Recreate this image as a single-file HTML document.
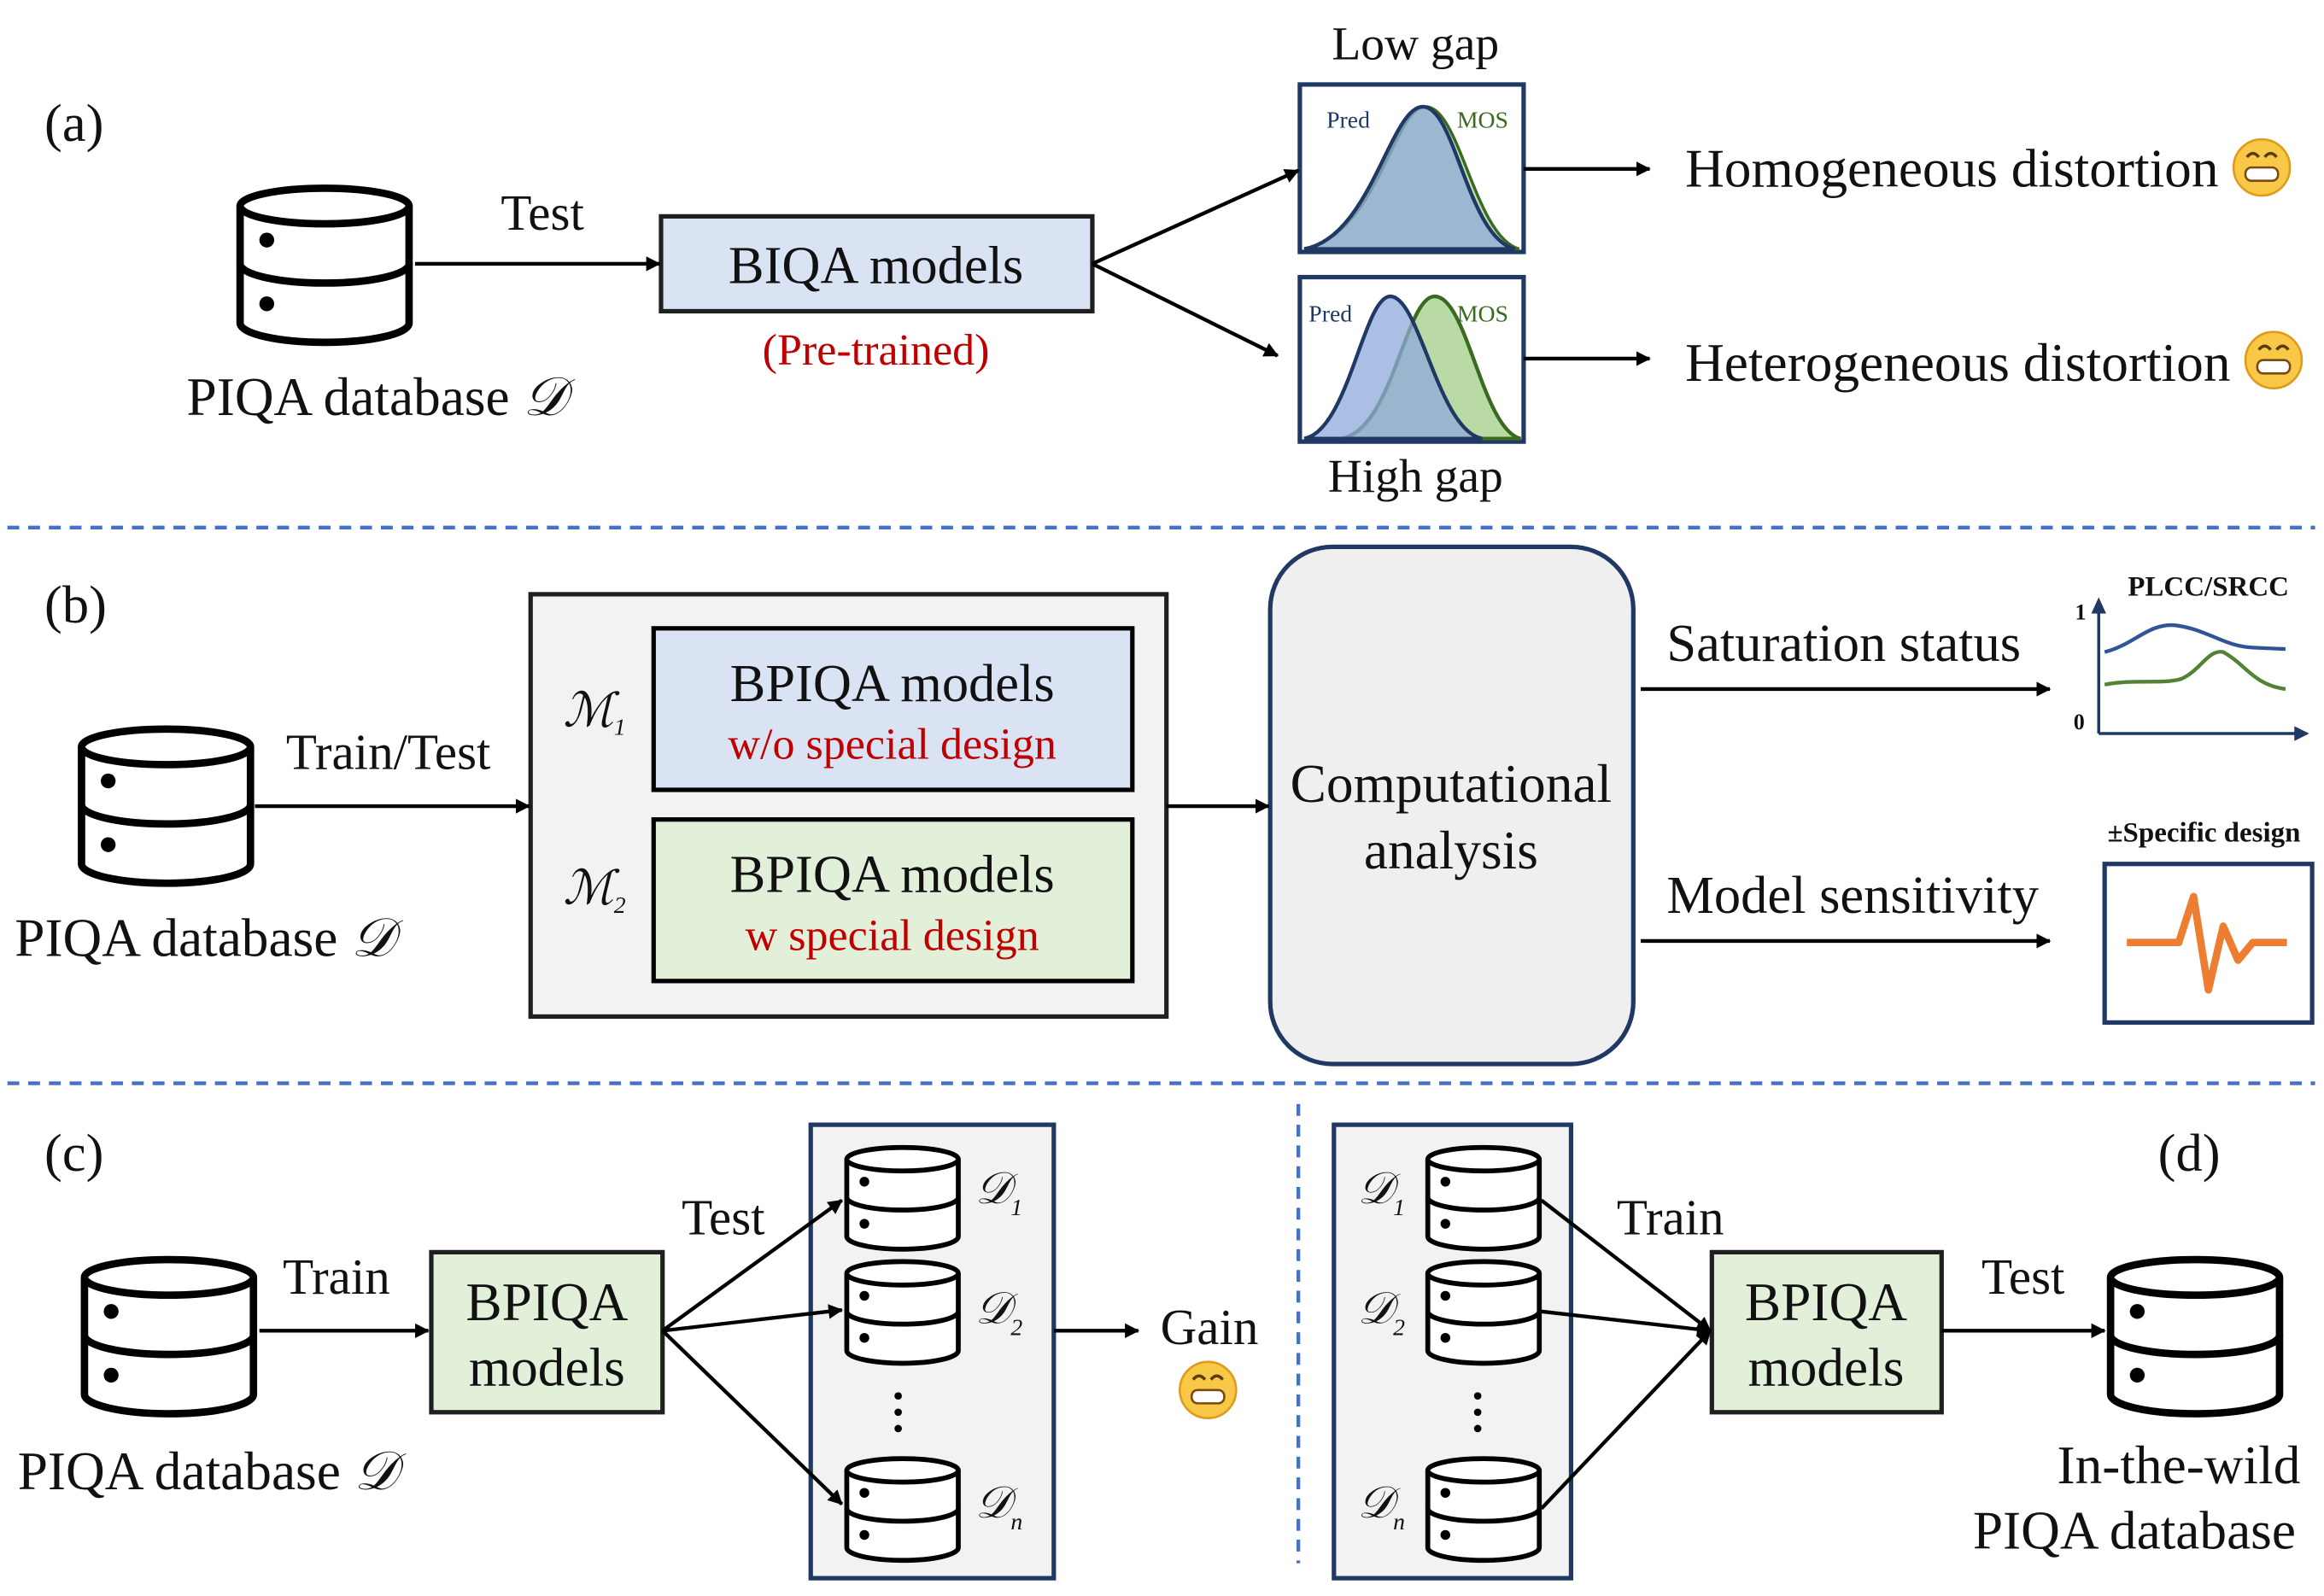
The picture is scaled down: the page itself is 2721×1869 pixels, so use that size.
<!DOCTYPE html>
<html><head><meta charset="utf-8"><style>
html,body{margin:0;padding:0;background:#fff}
svg{display:block}
text{font-family:"Liberation Serif",serif;fill:#111}
</style></head><body>
<svg width="2721" height="1869" viewBox="0 0 1568 1077" xmlns="http://www.w3.org/2000/svg">
<defs>
<marker id="ah" markerWidth="10" markerHeight="10" refX="9" refY="5" orient="auto" markerUnits="userSpaceOnUse"><path d="M0,0 L14,5 L0,10 Z" fill="#000" transform="scale(0.7,1)"/></marker>
<g id="db">
<path d="M2,14 L2,93 A57,13 0 0 0 116,93 L116,14" fill="#fff" stroke="#000" stroke-width="5"/>
<path d="M2,53 A57,13 0 0 0 116,53" fill="none" stroke="#000" stroke-width="5"/>
<ellipse cx="59" cy="14" rx="57" ry="12" fill="#fff" stroke="#000" stroke-width="5"/>
<circle cx="20" cy="37" r="5"/><circle cx="20" cy="80" r="5"/>
</g>
<g id="emo"><circle r="19" fill="#f9c846" stroke="#e09a1c" stroke-width="1.5"/><rect x="-11" y="0" width="22" height="9" rx="4" fill="#fff" stroke="#7a4a10" stroke-width="1.5"/><path d="M-10,-7 q4,-5 8,0 M2,-7 q4,-5 8,0" stroke="#5a3a10" stroke-width="2" fill="none"/></g>
</defs>
<!-- (a) -->
<text x="30" y="95" font-size="36">(a)</text>
<use href="#db" x="160" y="125"/>
<text x="366" y="155" font-size="34" text-anchor="middle">Test</text>
<text x="254" y="280" font-size="36.5" text-anchor="middle">PIQA database <tspan font-style="italic">𝒟</tspan></text>
<rect x="446" y="146" width="291" height="64" fill="#dae3f3" stroke="#1f1f1f" stroke-width="3"/>
<text x="591" y="191" font-size="36" text-anchor="middle">BIQA models</text>
<text x="591" y="246" font-size="30" text-anchor="middle" style="fill:#c00000">(Pre-trained)</text>
<text x="955" y="40" font-size="32" text-anchor="middle">Low gap</text>
<rect x="877" y="57" width="151" height="113" fill="#fff" stroke="#1f3864" stroke-width="3"/>
<path d="M880,168 C930,158 940,72 962,72 C985,72 995,160 1025,168 Z" fill="#a9d18e" fill-opacity="0.7" stroke="#3a6a20" stroke-width="2"/>
<path d="M880,168 C925,160 938,72 960,72 C982,72 990,160 1022,168 Z" fill="#8faadc" fill-opacity="0.75" stroke="#1f3864" stroke-width="2.5"/>
<text x="895" y="86" font-size="16" style="fill:#1f3864">Pred</text>
<text x="983" y="86" font-size="16" style="fill:#3a6a20">MOS</text>
<rect x="877" y="187" width="151" height="111" fill="#fff" stroke="#1f3864" stroke-width="3"/>
<path d="M905,296 C940,290 948,200 968,200 C990,200 1000,290 1026,296 Z" fill="#a9d18e" fill-opacity="0.8" stroke="#3a6a20" stroke-width="2.5"/>
<path d="M880,296 C910,290 920,200 938,200 C958,200 970,290 1000,296 Z" fill="#8faadc" fill-opacity="0.75" stroke="#1f3864" stroke-width="2.5"/>
<text x="883" y="217" font-size="16" style="fill:#1f3864">Pred</text>
<text x="983" y="217" font-size="16" style="fill:#3a6a20">MOS</text>
<text x="955" y="332" font-size="32" text-anchor="middle">High gap</text>
<text x="1137" y="126" font-size="36.5">Homogeneous distortion</text>
<use href="#emo" x="1526" y="113"/>
<text x="1137" y="257" font-size="36.5">Heterogeneous distortion</text>
<use href="#emo" x="1534" y="243"/>
<line x1="5" y1="356" x2="1562" y2="356" stroke="#4472c4" stroke-width="2.5" stroke-dasharray="8,6"/>
<!-- (b) -->
<text x="30" y="420" font-size="36">(b)</text>
<use href="#db" x="53" y="490"/>
<text x="262" y="519" font-size="34" text-anchor="middle">Train/Test</text>
<text x="138" y="645" font-size="36.5" text-anchor="middle">PIQA database <tspan font-style="italic">𝒟</tspan></text>
<rect x="358" y="401" width="429" height="285" fill="#f2f2f2" stroke="#1f1f1f" stroke-width="3"/>
<rect x="441" y="424" width="323" height="109" fill="#dae3f3" stroke="#000" stroke-width="3"/>
<text x="602" y="473" font-size="36" text-anchor="middle">BPIQA models</text>
<text x="602" y="512" font-size="30" text-anchor="middle" style="fill:#c00000">w/o special design</text>
<rect x="441" y="553" width="323" height="109" fill="#e2f0d9" stroke="#000" stroke-width="3"/>
<text x="602" y="602" font-size="36" text-anchor="middle">BPIQA models</text>
<text x="602" y="641" font-size="30" text-anchor="middle" style="fill:#c00000">w special design</text>
<text x="380" y="490" font-size="32" font-style="italic">ℳ<tspan font-size="16" dy="6">1</tspan></text>
<text x="380" y="610" font-size="32" font-style="italic">ℳ<tspan font-size="16" dy="6">2</tspan></text>
<rect x="857" y="369" width="245" height="349" rx="42" fill="#efefef" stroke="#1f3864" stroke-width="3"/>
<text x="979" y="541" font-size="36.5" text-anchor="middle">Computational</text>
<text x="979" y="586" font-size="36.5" text-anchor="middle">analysis</text>
<text x="1244" y="446" font-size="36" text-anchor="middle">Saturation status</text>
<text x="1250" y="616" font-size="36" text-anchor="middle">Model sensitivity</text>
<text x="1490" y="402" font-size="19" font-weight="bold" text-anchor="middle">PLCC/SRCC</text>
<path d="M1416,495 L1416,408" stroke="#1f3864" stroke-width="2" fill="none"/>
<path d="M1411,414 L1416,403 L1421,414 Z" fill="#1f3864"/>
<path d="M1416,495 L1550,495" stroke="#1f3864" stroke-width="2"/>
<path d="M1548,490 L1558,495 L1548,500 Z" fill="#1f3864"/>
<text x="1400" y="418" font-size="15" font-weight="bold">1</text>
<text x="1399" y="492" font-size="15" font-weight="bold">0</text>
<path d="M1420,440 C1440,435 1450,420 1468,422 C1490,425 1500,436 1520,437 L1542,438" stroke="#2f5597" stroke-width="2.5" fill="none"/>
<path d="M1420,462 C1440,458 1460,462 1472,458 C1485,452 1490,438 1500,440 C1515,448 1520,462 1542,465" stroke="#548235" stroke-width="2.5" fill="none"/>
<text x="1487" y="568" font-size="19" font-weight="bold" text-anchor="middle">±Specific design</text>
<rect x="1420" y="583" width="140" height="107" fill="#fff" stroke="#1f3864" stroke-width="3"/>
<path d="M1435,636 L1470,636 L1480,605 L1490,668 L1500,625 L1510,648 L1520,636 L1543,636" stroke="#ed7d31" stroke-width="5" fill="none" stroke-linejoin="round"/>
<line x1="5" y1="731" x2="1562" y2="731" stroke="#4472c4" stroke-width="2.5" stroke-dasharray="8,6"/>
<line x1="876" y1="745" x2="876" y2="1055" stroke="#4472c4" stroke-width="2.5" stroke-dasharray="8,6"/>
<!-- (c) -->
<text x="30" y="790" font-size="36">(c)</text>
<use href="#db" x="55" y="848"/>
<text x="227" y="873" font-size="34" text-anchor="middle">Train</text>
<text x="140" y="1005" font-size="36.5" text-anchor="middle">PIQA database <tspan font-style="italic">𝒟</tspan></text>
<rect x="291" y="845" width="156" height="108" fill="#e2f0d9" stroke="#1f1f1f" stroke-width="3"/>
<text x="369" y="891" font-size="36.5" text-anchor="middle">BPIQA</text>
<text x="369" y="935" font-size="36.5" text-anchor="middle">models</text>
<text x="488" y="833" font-size="34" text-anchor="middle">Test</text>
<rect x="547" y="759" width="164" height="306" fill="#f2f2f2" stroke="#1f3864" stroke-width="3"/>
<use href="#db" transform="translate(570,773) scale(0.66)"/>
<use href="#db" transform="translate(570,850) scale(0.66)"/>
<use href="#db" transform="translate(570,983) scale(0.66)"/>
<circle cx="606" cy="942" r="2.5"/><circle cx="606" cy="953" r="2.5"/><circle cx="606" cy="964" r="2.5"/>
<text x="658" y="812" font-size="30" font-style="italic">𝒟<tspan font-size="16" dy="8">1</tspan></text>
<text x="658" y="893" font-size="30" font-style="italic">𝒟<tspan font-size="16" dy="8">2</tspan></text>
<text x="658" y="1024" font-size="30" font-style="italic">𝒟<tspan font-size="16" dy="8">n</tspan></text>
<text x="816" y="907" font-size="34" text-anchor="middle">Gain</text>
<use href="#emo" x="815" y="938"/>
<!-- (d) -->
<rect x="900" y="759" width="160" height="306" fill="#f2f2f2" stroke="#1f3864" stroke-width="3"/>
<use href="#db" transform="translate(962,773) scale(0.66)"/>
<use href="#db" transform="translate(962,850) scale(0.66)"/>
<use href="#db" transform="translate(962,983) scale(0.66)"/>
<circle cx="997" cy="942" r="2.5"/><circle cx="997" cy="953" r="2.5"/><circle cx="997" cy="964" r="2.5"/>
<text x="916" y="812" font-size="30" font-style="italic">𝒟<tspan font-size="16" dy="8">1</tspan></text>
<text x="916" y="893" font-size="30" font-style="italic">𝒟<tspan font-size="16" dy="8">2</tspan></text>
<text x="916" y="1024" font-size="30" font-style="italic">𝒟<tspan font-size="16" dy="8">n</tspan></text>
<text x="1127" y="833" font-size="34" text-anchor="middle">Train</text>
<rect x="1155" y="845" width="155" height="108" fill="#e2f0d9" stroke="#1f1f1f" stroke-width="3"/>
<text x="1232" y="891" font-size="36.5" text-anchor="middle">BPIQA</text>
<text x="1232" y="935" font-size="36.5" text-anchor="middle">models</text>
<text x="1365" y="873" font-size="34" text-anchor="middle">Test</text>
<use href="#db" x="1422" y="848"/>
<text x="1477" y="790" font-size="36" text-anchor="middle">(d)</text>
<text x="1470" y="1001" font-size="36.5" text-anchor="middle">In-the-wild</text>
<text x="1440" y="1045" font-size="36.5" text-anchor="middle">PIQA database</text>
<!-- arrows on top -->
<g stroke="#000" stroke-width="2.5" fill="none" marker-end="url(#ah)">
<line x1="280" y1="178" x2="445" y2="178"/>
<line x1="737" y1="178" x2="876" y2="115"/>
<line x1="737" y1="178" x2="862" y2="240"/>
<line x1="1028" y1="114" x2="1113" y2="114"/>
<line x1="1028" y1="242" x2="1113" y2="242"/>
<line x1="172" y1="544" x2="357" y2="544"/>
<line x1="787" y1="544" x2="856" y2="544"/>
<line x1="1107" y1="465" x2="1383" y2="465"/>
<line x1="1107" y1="635" x2="1383" y2="635"/>
<line x1="175" y1="898" x2="289" y2="898"/>
<line x1="447" y1="898" x2="568" y2="810"/>
<line x1="447" y1="898" x2="568" y2="884"/>
<line x1="447" y1="898" x2="568" y2="1015"/>
<line x1="711" y1="898" x2="768" y2="898"/>
<line x1="1040" y1="810" x2="1154" y2="898"/>
<line x1="1040" y1="885" x2="1154" y2="898"/>
<line x1="1040" y1="1018" x2="1154" y2="898"/>
<line x1="1310" y1="898" x2="1420" y2="898"/>
</g>
</svg>
</body></html>
